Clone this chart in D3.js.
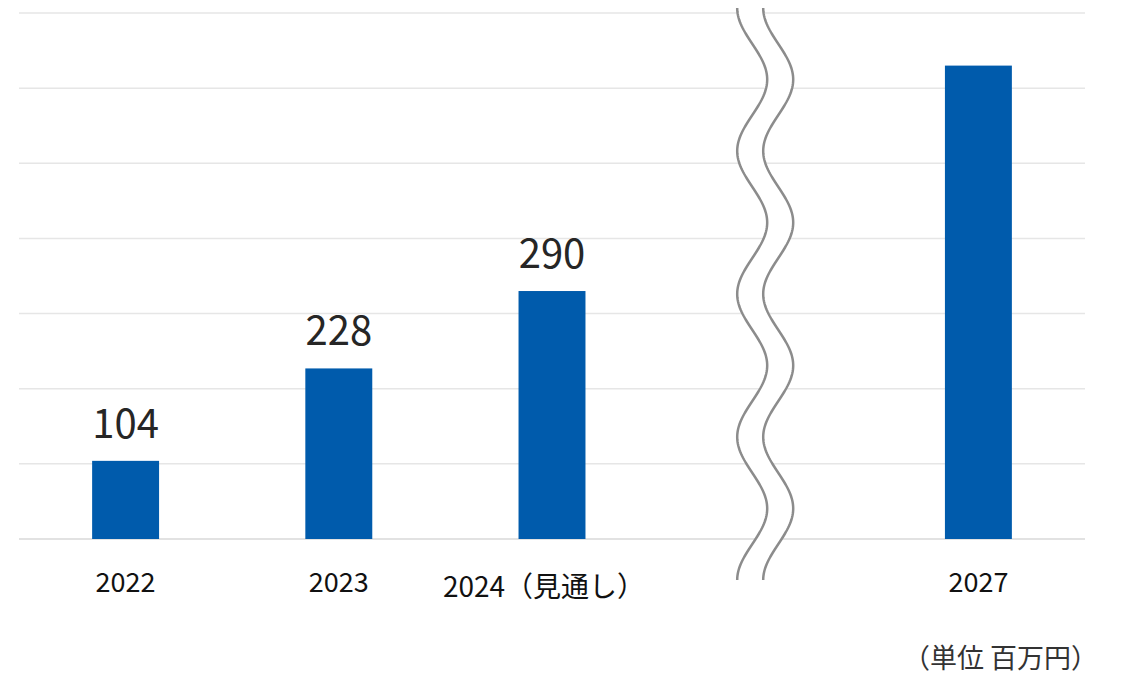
<!DOCTYPE html>
<html>
<head>
<meta charset="utf-8">
<script src="https://cdn.jsdelivr.net/npm/d3@7"></script>
<style>
  body { margin: 0; background: #fff; }
  svg { display: block; font-family: "Noto Sans CJK JP", "Noto Sans", sans-serif; }
</style>
</head>
<body>
<div id="chart"></div>
<script>
var categories = ['2022', '2023', '2024（見通し）', '', '2027'];
var years = ['2022', '2023', '2024（見通し）', '2027'];
var barValues = [104, 227, 330, 630];
var valueLabels = ['104', '228', '290', ''];
var gridTicks = [0, 100, 200, 300, 400, 500, 600, 700];
var unitLabel = '（単位 百万円）';

var width = 1122, height = 675;
var plotLeft = 19, plotRight = 1085, plotTop = 13, plotBottom = 539;

var svg = d3.select('#chart').append('svg')
    .attr('width', width)
    .attr('height', height);

var x = d3.scaleBand()
    .domain(categories)
    .range([plotLeft, plotRight])
    .paddingInner(0.686)
    .paddingOuter(0.343);

var y = d3.scaleLinear()
    .domain([0, 700])
    .range([plotBottom, plotTop]);

// gridlines
svg.append('g').selectAll('line')
    .data(gridTicks)
    .enter().append('line')
    .attr('x1', plotLeft)
    .attr('x2', plotRight)
    .attr('y1', function(d) { return y(d); })
    .attr('y2', function(d) { return y(d); })
    .attr('stroke', function(d) { return d === 0 ? '#d9d9d9' : '#e6e6e6'; })
    .attr('stroke-width', 1.5);

// bars
svg.append('g').selectAll('rect')
    .data(barValues)
    .enter().append('rect')
    .attr('x', function(d, i) { return x(years[i]); })
    .attr('y', function(d) { return y(d); })
    .attr('width', x.bandwidth())
    .attr('height', function(d) { return y(0) - y(d); })
    .attr('fill', '#005bac');

// value labels
svg.append('g').selectAll('text')
    .data(barValues)
    .enter().append('text')
    .attr('x', function(d, i) { return x(years[i]) + x.bandwidth() / 2; })
    .attr('y', function(d) { return y(d) - 23; })
    .attr('text-anchor', 'middle')
    .attr('font-size', 40)
    .attr('fill', '#262626')
    .text(function(d, i) { return valueLabels[i]; });

// category labels
svg.append('g').selectAll('text')
    .data(years)
    .enter().append('text')
    .attr('x', function(d) {
        var c = x(d) + x.bandwidth() / 2;
        return d.length > 4 ? c - 8 : c;
    })
    .attr('y', function(d) { return d.length > 4 ? 597 : 592; })
    .attr('text-anchor', 'middle')
    .attr('font-size', function(d) { return d.length > 4 ? 28 : 27; })
    .attr('fill', '#111')
    .text(function(d) { return d; });

// break marks in the empty slot
var cx = x('') + x.bandwidth() / 2;
var ys = d3.range(8, 581, 2);
function wave(off) {
    return ys.map(function(v) {
        return [cx + off - 15 * Math.cos(2 * Math.PI * (v - 8) / 143), v];
    });
}
var leftWave = wave(-13), rightWave = wave(13);
var line = d3.line();

svg.append('path')
    .attr('d', line(leftWave.concat(rightWave.slice().reverse())) + 'Z')
    .attr('fill', '#fff');

[leftWave, rightWave].forEach(function(pts) {
    svg.append('path')
        .attr('d', line(pts))
        .attr('fill', 'none')
        .attr('stroke', '#8c8c8c')
        .attr('stroke-width', 2.5);
});

// unit
svg.append('text')
    .attr('x', 1098)
    .attr('y', 668)
    .attr('text-anchor', 'end')
    .attr('font-size', 27)
    .attr('fill', '#333')
    .text(unitLabel);
</script>
</body>
</html>
